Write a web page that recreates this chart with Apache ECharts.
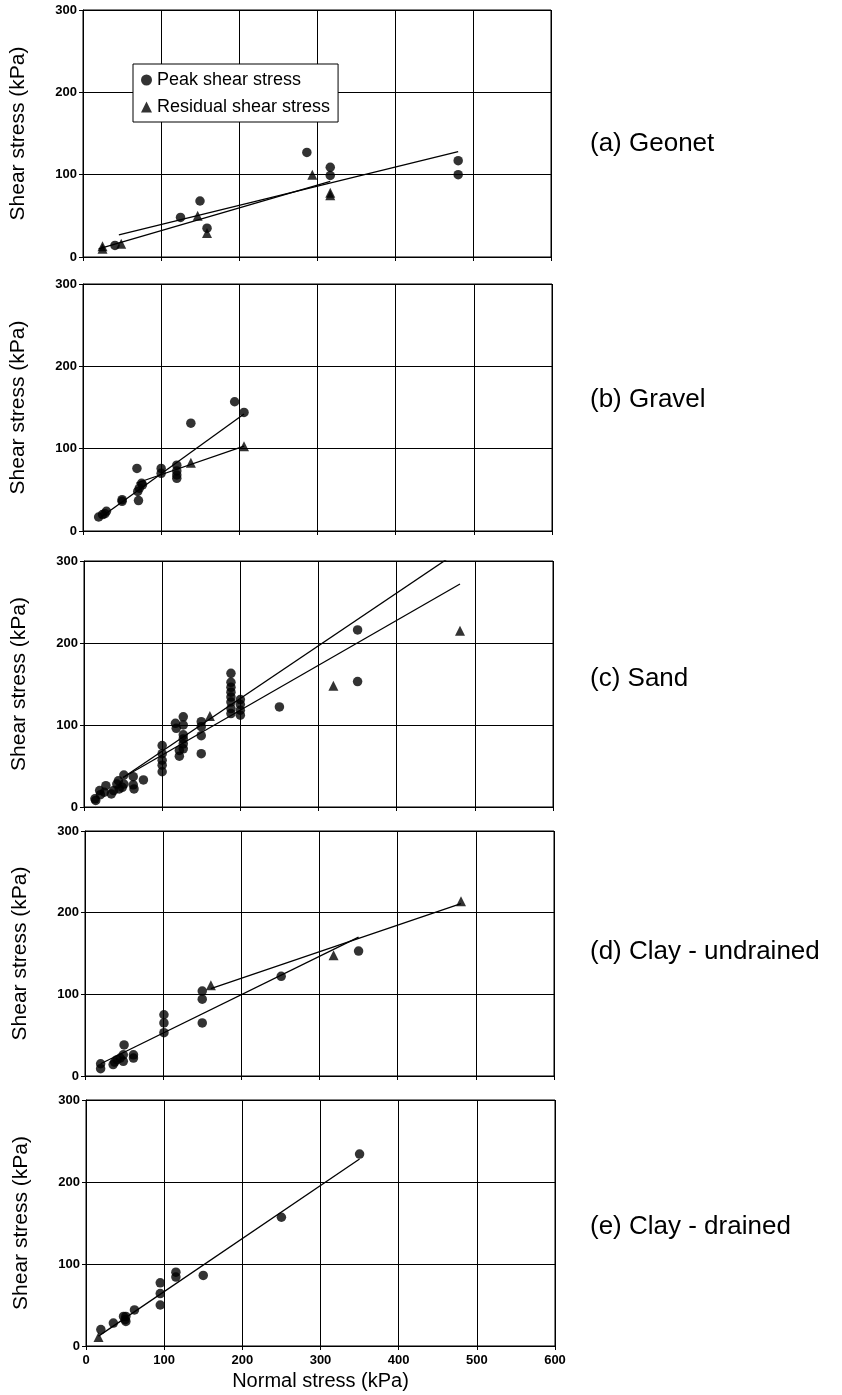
<!DOCTYPE html>
<html>
<head>
<meta charset="utf-8">
<script src="https://cdn.jsdelivr.net/npm/echarts@6/dist/echarts.min.js"></script>
<style>
html,body{margin:0;padding:0;background:#fff;}
#chart{width:842px;height:1395px;}
</style>
</head>
<body>
<div id="chart"></div>
<script>
// ---- data ----
const panelLabels = ['(a) Geonet', '(b) Gravel', '(c) Sand', '(d) Clay - undrained', '(e) Clay - drained'];
const xTicks = [0, 100, 200, 300, 400, 500, 600];
const yTicks = [0, 100, 200, 300];

const geonetPeak = [[41,14],[125,48],[150,68],[159,35],[287,127],[317,109],[317,99],[481,117],[481,100]];
const geonetResidual = [[25,13],[25,10],[49,16],[147,50],[159,29],[294,100],[317,78],[317,75]];
const geonetPeakFit = [[46,27],[481,128]];
const geonetResidualFit = [[20,10],[317,92]];

const gravelPeak = [[20,17],[25,20],[30,24],[28,21],[50,36],[50,38],[69,76],[71,37],[70,48],[72,52],[76,56],[75,58],
  [100,76],[100,70],[120,80],[120,68],[120,64],[120,73],[138,131],[194,157],[206,144]];
const gravelResidual = [[138,83],[206,103]];
const gravelPeakFit = [[22,16],[206,142]];
const gravelResidualFit = [[68,58],[206,103]];

const sandPeak = [[14,10],[15,8],[20,20],[21,15],[28,26],[26,18],[35,16],[38,20],[42,28],[45,22],[44,32],[51,39],[51,28],[49,24],
  [63,37],[64,22],[63,27],[76,33],
  [100,75],[100,65],[100,57],[100,51],[100,43],
  [117,102],[118,96],[127,110],[127,100],[127,88],[127,83],[127,77],[127,71],[122,62],[122,69],
  [150,104],[150,98],[150,87],[150,65],
  [188,163],[188,152],[188,146],[188,140],[188,134],[188,128],[188,120],[188,114],
  [200,131],[200,125],[200,118],[200,112],
  [250,122],[350,216],[350,153]];
const sandResidual = [[161,111],[319,148],[481,215]];
const sandPeakFit = [[50,36],[481,313]];
const sandResidualFit = [[50,36],[481,272]];

const clayUPeak = [[20,9],[20,15],[36,14],[38,17],[41,20],[45,22],[49,18],[49,26],[50,38],[62,26],[62,22],
  [101,75],[101,65],[101,53],[150,104],[150,94],[150,65],[251,122],[350,153]];
const clayUResidual = [[161,111],[318,148],[481,214]];
const clayUPeakFit = [[20,15],[350,170]];
const clayUResidualFit = [[161,107],[481,211]];

const clayDPeak = [[19,20],[35,28],[48,36],[51,36],[51,30],[50,32],[62,44],[95,77],[95,64],[95,50],[115,90],[115,84],
  [150,86],[250,157],[350,234]];
const clayDResidual = [[16,11]];
const clayDFit = [[16,12],[350,228]];

// ---- layout ----
const panelData = [
  {peak: geonetPeak, res: geonetResidual, fits: [geonetPeakFit, geonetResidualFit]},
  {peak: gravelPeak, res: gravelResidual, fits: [gravelPeakFit, gravelResidualFit]},
  {peak: sandPeak, res: sandResidual, fits: [sandPeakFit, sandResidualFit]},
  {peak: clayUPeak, res: clayUResidual, fits: [clayUPeakFit, clayUResidualFit]},
  {peak: clayDPeak, res: clayDResidual, fits: [clayDFit]}
];
const boxes = [
  {left: 82, top: 10, height: 247},
  {left: 83, top: 284, height: 247},
  {left: 84, top: 561, height: 246},
  {left: 85, top: 831, height: 245},
  {left: 86, top: 1100, height: 246}
];
const labelY = [145, 401, 680, 953, 1228];
const FONT = '"Liberation Sans", Arial, sans-serif';

const grids = [], xAxes = [], yAxes = [], series = [], graphics = [];
boxes.forEach((b, i) => {
  grids.push({left: b.left, top: b.top, width: 469, height: b.height, show: true,
    borderColor: '#000', borderWidth: 1, backgroundColor: 'transparent', containLabel: false});
  const last = i === boxes.length - 1;
  xAxes.push({
    type: 'value', gridIndex: i, min: xTicks[0], max: xTicks[xTicks.length - 1], interval: 100,
    axisLine: {show: true, onZero: false, lineStyle: {color: '#000', width: 1}},
    axisTick: {show: true, inside: false, length: 4, lineStyle: {color: '#000'}},
    axisLabel: {show: last, color: '#000', fontSize: 13, fontWeight: 'bold', fontFamily: FONT, margin: 8},
    splitLine: {show: true, lineStyle: {color: '#000', width: 1}},
    name: last ? 'Normal stress (kPa)' : '', nameLocation: 'middle', nameGap: 25,
    nameTextStyle: {color: '#000', fontSize: 20, fontFamily: FONT}
  });
  yAxes.push({
    type: 'value', gridIndex: i, min: yTicks[0], max: yTicks[yTicks.length - 1], interval: 100,
    axisLine: {show: true, onZero: false, lineStyle: {color: '#000', width: 1}},
    axisTick: {show: true, inside: false, length: 4, lineStyle: {color: '#000'}},
    axisLabel: {color: '#000', fontSize: 13, fontWeight: 'bold', fontFamily: FONT, margin: 6},
    splitLine: {show: true, lineStyle: {color: '#000', width: 1}},
    name: 'Shear stress (kPa)', nameLocation: 'middle', nameGap: 54,
    nameTextStyle: {color: '#000', fontSize: 21, fontFamily: FONT}
  });
  const p = panelData[i];
  p.fits.forEach((f, k) => {
    series.push({type: 'line', name: 'fit' + i + '_' + k, xAxisIndex: i, yAxisIndex: i, data: f,
      symbol: 'none', silent: true, clip: true, lineStyle: {color: '#000', width: 1.3}, z: 3});
  });
  series.push({type: 'scatter', name: 'Peak shear stress', xAxisIndex: i, yAxisIndex: i, data: p.peak,
    symbol: 'circle', symbolSize: 9.5, itemStyle: {color: '#000'}, z: 4});
  series.push({type: 'scatter', name: 'Residual shear stress', xAxisIndex: i, yAxisIndex: i, data: p.res,
    symbol: 'triangle', symbolSize: 10, itemStyle: {color: '#000'}, z: 4});
  graphics.push({type: 'text', left: 590, top: labelY[i] - 14,
    style: {text: panelLabels[i], fill: '#000', font: '26px ' + FONT}});
});

const chart = echarts.init(document.getElementById('chart'), null, {renderer: 'canvas'});
chart.setOption({
  animation: false,
  backgroundColor: '#fff',
  grid: grids, xAxis: xAxes, yAxis: yAxes, series: series,
  legend: {
    data: ['Peak shear stress', 'Residual shear stress'],
    orient: 'vertical', left: 133, top: 64,
    backgroundColor: '#fff', borderColor: '#000', borderWidth: 1,
    padding: [7, 8, 6, 8], itemGap: 9, itemWidth: 11, itemHeight: 11,
    textStyle: {color: '#000', fontSize: 18, fontFamily: FONT},
    selectedMode: false
  },
  graphic: graphics
});
</script>
</body>
</html>
